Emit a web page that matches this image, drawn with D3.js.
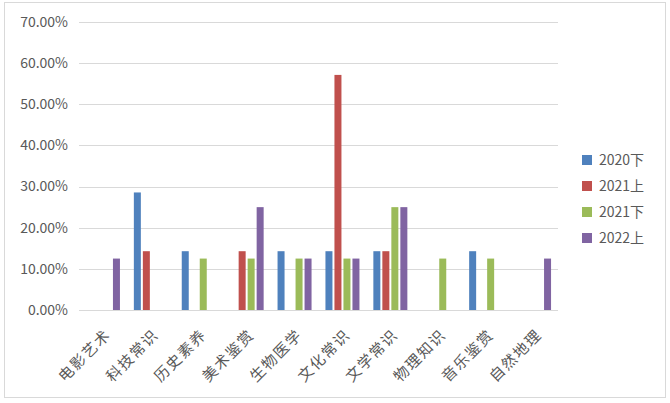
<!DOCTYPE html>
<html><head><meta charset="utf-8">
<script src="https://cdn.jsdelivr.net/npm/d3@7/dist/d3.min.js"></script>
<style>body{margin:0;background:#fff;}svg{display:block;}</style>
</head><body>
<svg id="c" width="670" height="403"></svg>
<script>
const categories = ["电影艺术","科技常识","历史素养","美术鉴赏","生物医学","文化常识","文学常识","物理知识","音乐鉴赏","自然地理"];
const seriesNames = ["2020下","2021上","2021下","2022上"];
const s2020b = [0, 0.2857, 0.1429, 0, 0.1429, 0.1429, 0.1429, 0, 0.1429, 0];
const s2021a = [0, 0.1429, 0, 0.1429, 0, 0.5714, 0.1429, 0, 0, 0];
const s2021b = [0, 0, 0.125, 0.125, 0.125, 0.125, 0.25, 0.125, 0.125, 0];
const s2022a = [0.125, 0, 0, 0.25, 0.125, 0.125, 0.25, 0, 0, 0.125];
const yTicks = [0, 0.1, 0.2, 0.3, 0.4, 0.5, 0.6, 0.7];
const colors = ["#4f81bd","#c0504d","#9bbb59","#8064a2"];
const seriesVals = [s2020b, s2021a, s2021b, s2022a];

(function(){
const svg = d3.select("#c");
const font = "'Noto Sans CJK SC','Noto Sans',sans-serif";
svg.append("rect").attr("x",4.5).attr("y",2.5).attr("width",661).attr("height",395)
  .attr("fill","#fff").attr("stroke","#d9d9d9");

const pLeft = 79, pRight = 558, pTop = 22, pBottom = 310;
const x = d3.scaleBand().domain(categories).range([pLeft, pRight]).paddingInner(0).paddingOuter(0);
const y = d3.scaleLinear().domain([0, 0.7]).range([pBottom, pTop]);
const bw = 7, gap = 2;
const groupW = 4*bw+3*gap;
const xi = d3.scaleBand().domain(seriesNames).range([0, groupW]).paddingInner(gap/(bw+gap)).paddingOuter(0);

svg.append("g").selectAll("line").data(yTicks).join("line")
  .attr("x1", pLeft).attr("x2", pRight)
  .attr("y1", d => Math.round(y(d))+0.5).attr("y2", d => Math.round(y(d))+0.5)
  .attr("stroke", "#d9d9d9").attr("stroke-width", 1);

svg.append("g").selectAll("text").data(yTicks).join("text")
  .attr("x", 68).attr("y", d => y(d)).attr("dy","0.35em")
  .attr("text-anchor","end").attr("font-family",font).attr("font-size",14)
  .attr("fill","#595959").text(d => (d*100).toFixed(2)+"%");

seriesVals.forEach((vals, si) => {
  svg.append("g").selectAll("rect").data(vals.map((v,i)=>({v, c:categories[i]})).filter(d => d.v > 0)).join("rect")
    .attr("x", d => x(d.c) + x.bandwidth()/2 - groupW/2 + xi(seriesNames[si]))
    .attr("width", xi.bandwidth())
    .attr("y", d => y(d.v)).attr("height", d => y(0) - y(d.v))
    .attr("fill", colors[si]);
});

svg.append("g").selectAll("text").data(categories).join("text")
  .attr("transform", d => `translate(${x(d)+x.bandwidth()/2+5},${pBottom+22}) rotate(-45)`)
  .attr("text-anchor","end").attr("dy","0.35em")
  .attr("font-family",font).attr("font-size",15).attr("letter-spacing",1.6).attr("fill","#595959")
  .text(d => d);

const lg = svg.append("g").selectAll("g").data(seriesNames).join("g")
  .attr("transform", (d,i) => `translate(582,${160 + i*26})`);
lg.append("rect").attr("x",0).attr("y",-5).attr("width",10).attr("height",10).attr("fill",(d,i)=>colors[i]);
lg.append("text").attr("x",17).attr("y",0).attr("dy","0.35em")
  .attr("font-family",font).attr("font-size",14).attr("fill","#595959").text(d=>d);
})();
</script>
</body></html>
